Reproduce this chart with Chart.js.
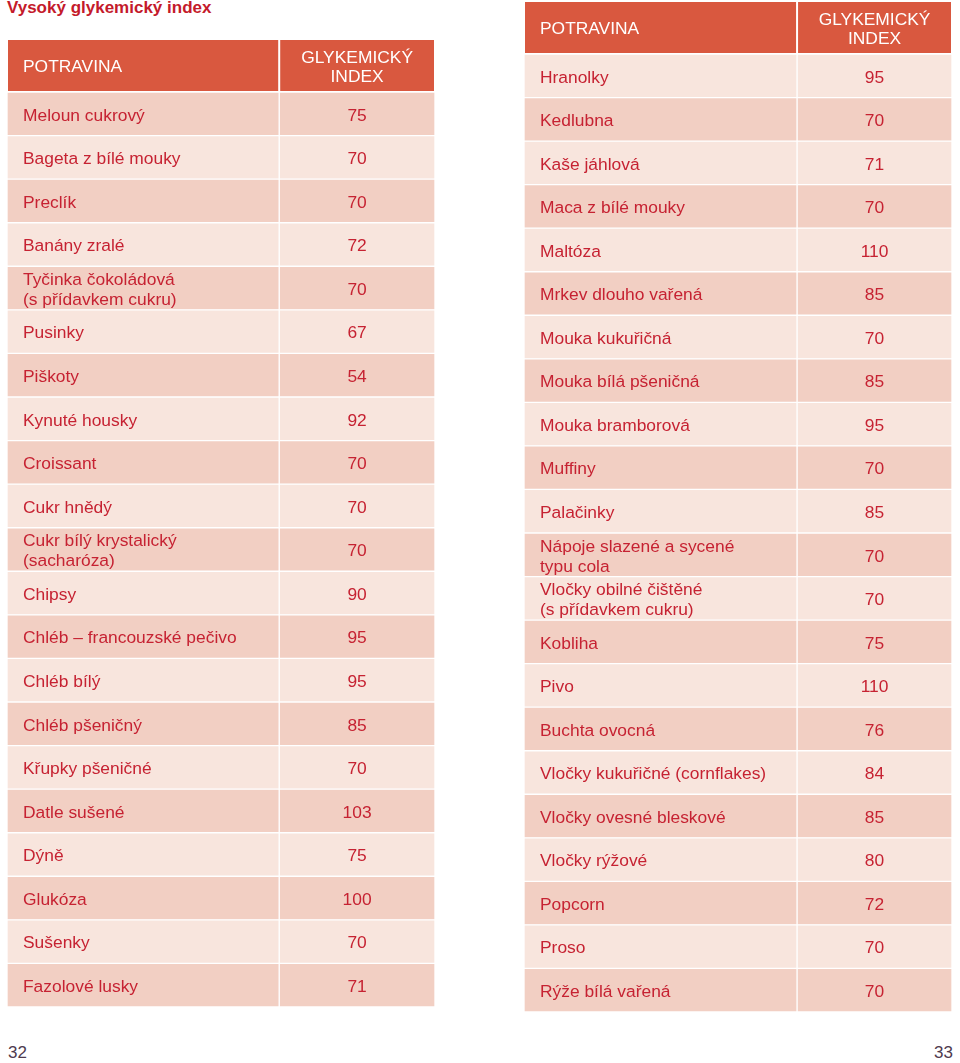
<!DOCTYPE html>
<html lang="cs">
<head>
<meta charset="utf-8">
<script src="https://cdn.jsdelivr.net/npm/chart.js@4.4.0/dist/chart.umd.min.js"></script>
<style>
  html, body { margin: 0; padding: 0; background: #fff; }
  body { width: 960px; height: 1063px; position: relative; overflow: hidden; font-family: "Liberation Sans", Arial, sans-serif; }
  #title { position: absolute; left: 7px; top: -2px; font-size: 17px; line-height: 20px; font-weight: bold; color: #c41a2b; }
  .page { position: absolute; top: 1043px; font-size: 17px; line-height: 20px; color: #4e3a4e; }
  canvas { position: absolute; }
</style>
</head>
<body>
<div id="title">Vysoký glykemický index</div>
<canvas id="tableLeft" width="428" height="968" style="left:7px;top:39px"></canvas>
<canvas id="tableRight" width="428" height="1011" style="left:524px;top:1px"></canvas>
<div class="page" style="left:8px">32</div>
<div class="page" style="right:7px">33</div>
<script>
// hlavička tabulky
const headerLabels = ['POTRAVINA', 'GLYKEMICKÝ\nINDEX'];

// levá strana (str. 32)
const leftFoods = [
  'Meloun cukrový', 'Bageta z bílé mouky', 'Preclík', 'Banány zralé',
  'Tyčinka čokoládová\n(s přídavkem cukru)', 'Pusinky', 'Piškoty', 'Kynuté housky',
  'Croissant', 'Cukr hnědý', 'Cukr bílý krystalický\n(sacharóza)', 'Chipsy',
  'Chléb – francouzské pečivo', 'Chléb bílý', 'Chléb pšeničný', 'Křupky pšeničné',
  'Datle sušené', 'Dýně', 'Glukóza', 'Sušenky', 'Fazolové lusky'
];
const leftGI = [75, 70, 70, 72, 70, 67, 54, 92, 70, 70, 70, 90, 95, 95, 85, 70, 103, 75, 100, 70, 71];

// pravá strana (str. 33)
const rightFoods = [
  'Hranolky', 'Kedlubna', 'Kaše jáhlová', 'Maca z bílé mouky', 'Maltóza',
  'Mrkev dlouho vařená', 'Mouka kukuřičná', 'Mouka bílá pšeničná', 'Mouka bramborová',
  'Muffiny', 'Palačinky', 'Nápoje slazené a sycené\ntypu cola',
  'Vločky obilné čištěné\n(s přídavkem cukru)', 'Kobliha', 'Pivo', 'Buchta ovocná',
  'Vločky kukuřičné (cornflakes)', 'Vločky ovesné bleskové', 'Vločky rýžové',
  'Popcorn', 'Proso', 'Rýže bílá vařená'
];
const rightGI = [95, 70, 71, 70, 110, 85, 70, 85, 95, 70, 85, 70, 70, 75, 110, 76, 84, 85, 80, 72, 70, 70];

const HEAD = '#d9583f';
const DARK = '#f2cfc3';
const LIGHT = '#f8e5dd';
const TEXT = '#c62232';
const FONT = '"Liberation Sans", Arial, sans-serif';
const HEADER_H = 53;
const LINE_H = 20;
const TEXT_DY = 2; // posun textu dolů, aby seděl na střed řádku

const drawLines = (ctx, text, x, y, lh) => {
  const lines = text.split('\n');
  lines.forEach((l, i) => ctx.fillText(l, x, y + TEXT_DY + (i - (lines.length - 1) / 2) * lh));
};

const tablePlugin = (foods, values, split) => ({
  id: 'tableText',
  beforeDatasetsDraw(chart) {
    const ctx = chart.ctx;
    const x = chart.scales.x;
    const left = x.getPixelForValue(0), mid = x.getPixelForValue(split), right = x.getPixelForValue(1);
    const bottom = chart.chartArea.top;
    ctx.save();
    ctx.fillStyle = HEAD;
    ctx.fillRect(left + 1, 1, mid - left - 2, bottom - 2);
    ctx.fillRect(mid + 1, 1, right - mid - 2, bottom - 2);
    ctx.fillStyle = '#fff';
    ctx.font = '17.4px ' + FONT;
    ctx.textBaseline = 'middle';
    ctx.textAlign = 'left';
    drawLines(ctx, headerLabels[0], left + 16, bottom / 2, 19.5);
    ctx.textAlign = 'center';
    drawLines(ctx, headerLabels[1], (mid + right) / 2, bottom / 2, 19.5);
    ctx.restore();
  },
  afterDatasetsDraw(chart) {
    const ctx = chart.ctx;
    const x = chart.scales.x, y = chart.scales.y;
    const lx = x.getPixelForValue(0) + 16;
    const cx = x.getPixelForValue((split + 1) / 2);
    ctx.save();
    ctx.fillStyle = TEXT;
    ctx.font = '17.4px ' + FONT;
    ctx.textBaseline = 'middle';
    foods.forEach((f, i) => {
      const py = y.getPixelForValue(i);
      ctx.textAlign = 'left';
      drawLines(ctx, f, lx, py, LINE_H);
      ctx.textAlign = 'center';
      drawLines(ctx, String(values[i]), cx, py, LINE_H);
    });
    ctx.restore();
  }
});

const makeTable = (canvasId, foods, values, split, offset) => {
  const colors = foods.map((_, i) => (i + offset) % 2 === 0 ? DARK : LIGHT);
  new Chart(document.getElementById(canvasId), {
    type: 'bar',
    data: {
      labels: foods,
      datasets: [
        { data: foods.map(() => [0, split]), backgroundColor: colors, borderColor: '#fff', borderWidth: 1, borderSkipped: false },
        { data: values.map(() => [split, 1]), backgroundColor: colors, borderColor: '#fff', borderWidth: 1, borderSkipped: false }
      ]
    },
    options: {
      indexAxis: 'y',
      responsive: false,
      animation: false,
      layout: { padding: { top: HEADER_H, left: 0, right: 0, bottom: 0 } },
      datasets: { bar: { categoryPercentage: 1, barPercentage: 1, grouped: false } },
      plugins: { legend: { display: false }, tooltip: { enabled: false } },
      scales: {
        x: { type: 'linear', min: 0, max: 1, display: false },
        y: { type: 'category', display: false }
      }
    },
    plugins: [tablePlugin(foods, values, split)]
  });
};

makeTable('tableLeft', leftFoods, leftGI, 0.636, 0);
makeTable('tableRight', rightFoods, rightGI, 0.638, 1);
</script>
</body>
</html>
